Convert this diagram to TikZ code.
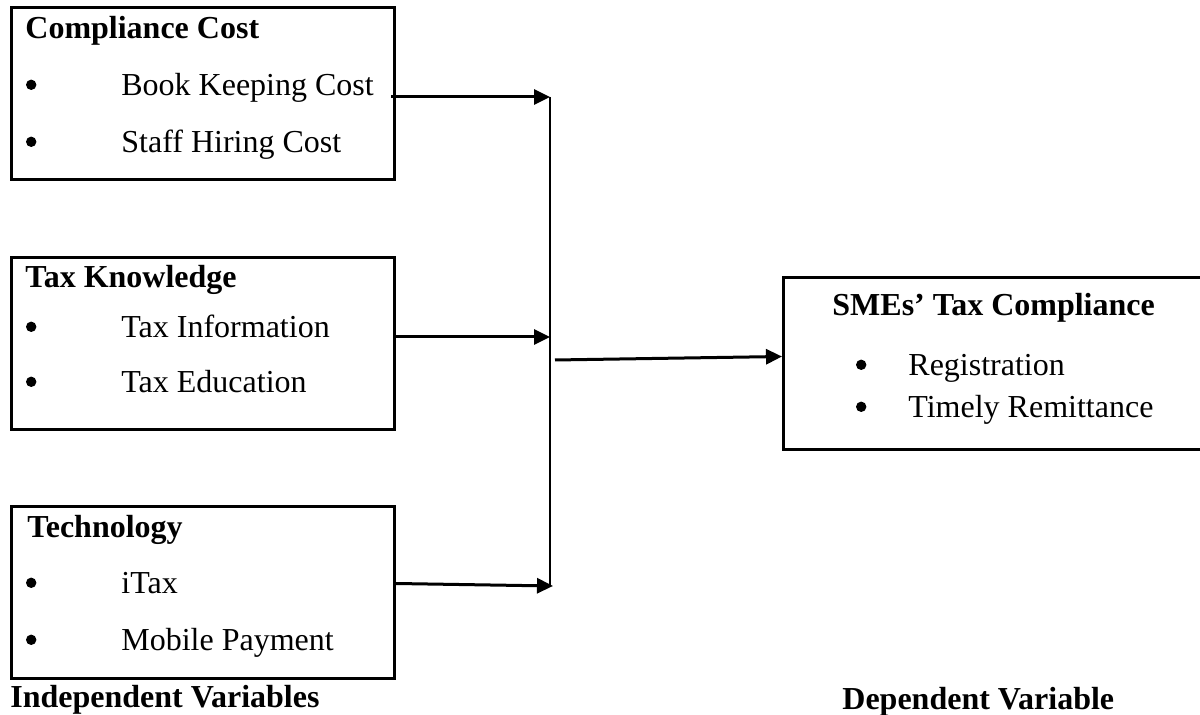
\documentclass[tikz,border=0pt]{standalone}
\usepackage{fontspec}
\setmainfont{Liberation Serif}
\usetikzlibrary{arrows.meta}

\newcommand{\bul}[1][48pt]{\makebox[#1][l]{\hspace{0.3pt}\tikz[baseline=-5.6pt]\fill (0,0) circle (2.6pt);}}

\begin{document}
\begin{tikzpicture}[x=0.5pt,y=-0.5pt,>={Triangle[length=8pt,width=7.5pt]},
	varbox/.style={draw,line width=1.5pt,inner sep=0pt,anchor=north west,minimum width=191.5pt,minimum height=86pt},
	txt/.style={anchor=base west,inner sep=0pt,font=\fontsize{16}{19}\selectfont},
	head/.style={txt,font=\fontsize{16}{19}\selectfont\bfseries},
	flow/.style={->,line width=1.5pt},
	bus/.style={line width=0.75pt}]
	\useasboundingbox (0,0) rectangle (1200,715);
	\clip (0,0) rectangle (1200,715);

	% boxes
	\node[varbox] (CC) at (10,6)   {};
	\node[varbox] (TK) at (10,256) {};
	\node[varbox] (TE) at (10,505) {};
	\node[varbox,minimum width=212pt] (DV) at (782,276) {};

	% independent variables
	\node[head] (CCh) at (25,39)  {Compliance Cost};
	\node[txt]  (CC1) at (25,96)  {\bul Book Keeping Cost};
	\node[txt]  (CC2) at (25,153) {\bul Staff Hiring Cost};

	\node[head] (TKh) at (25,288) {Tax Knowledge};
	\node[txt]  (TK1) at (25,338) {\bul Tax Information};
	\node[txt]  (TK2) at (25,393) {\bul Tax Education};

	\node[head] (TEh) at (27,538) {Technology};
	\node[txt]  (TE1) at (25,594) {\bul iTax};
	\node[txt]  (TE2) at (25,651) {\bul Mobile Payment};

	% dependent variable
	\node[head] (DVh) at (832,316) {SMEs’ Tax Compliance};
	\node[txt]  (DV1) at (855,376) {\bul[22.5pt] Registration};
	\node[txt]  (DV2) at (855,418) {\bul[22.5pt] Timely Remittance};

	\node[head] (IV)  at (10,708)  {Independent Variables};
	\node[head] (DVl) at (842,710) {Dependent Variable};

	% connectors
	\coordinate (J1) at (550,97);
	\coordinate (J2) at (550,337);
	\coordinate (J3) at (553,586);
	\coordinate (J0) at (555,360);

	\draw[flow] ([xshift=-2.5pt]CC.east |- J1) -- (J1);
	\draw[flow] (TK.east |- J2) -- (J2);
	\draw[flow] ([yshift=4.5pt]TE.east) -- (J3);
	\draw[bus]  (J1) -- (J3 -| J1);
	\draw[flow] (J0) -- ([yshift=3.5pt]DV.west);
\end{tikzpicture}
\end{document}
